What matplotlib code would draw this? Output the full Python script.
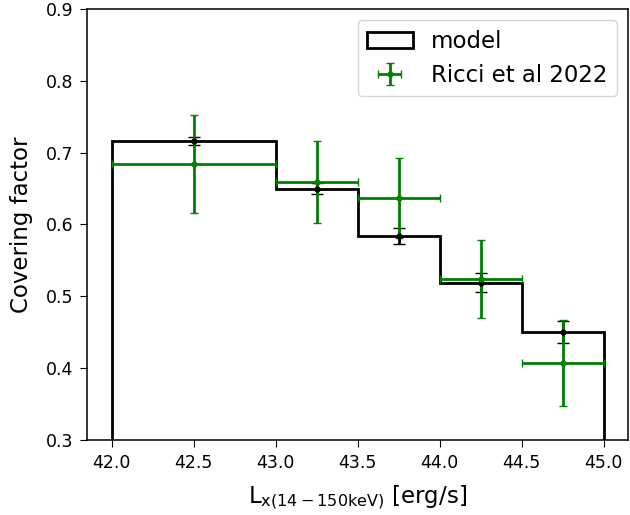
import numpy as np
import matplotlib
matplotlib.use("Agg")
import matplotlib.pyplot as plt

# model binned covering factor
bin_edges = [42.0, 43.0, 43.5, 44.0, 44.5, 45.0]
model_cf = [0.716, 0.650, 0.584, 0.519, 0.450]
model_x = [42.5, 43.25, 43.75, 44.25, 44.75]
model_err = [0.006, 0.008, 0.011, 0.013, 0.015]

# Ricci et al 2022
ricci_x = [42.5, 43.25, 43.75, 44.25, 44.75]
ricci_xerr = [0.5, 0.25, 0.25, 0.25, 0.25]
ricci_cf = [0.684, 0.659, 0.637, 0.524, 0.407]
ricci_err = [0.068, 0.057, 0.056, 0.054, 0.060]


def main():
    fig = plt.figure(figsize=(6.3, 5.15), dpi=100)
    ax = fig.add_axes([0.138, 0.1456, 0.859, 0.837])

    ax.hist(bin_edges[:-1], bins=bin_edges, weights=model_cf, histtype="step",
            color="black", linewidth=2, label="model")
    ax.errorbar(model_x, model_cf, yerr=model_err, fmt=".", color="black",
                capsize=4.5, linewidth=2, markersize=7)
    ax.errorbar(ricci_x, ricci_cf, xerr=ricci_xerr, yerr=ricci_err, fmt=".",
                color="green", capsize=3, linewidth=2, markersize=7,
                label="Ricci et al 2022")

    ax.set_ylim(0.3, 0.9)
    ax.set_xlabel(r"L$_{\rm x(14-150keV)}$ [erg/s]", fontsize=16.5, labelpad=8)
    ax.set_ylabel("Covering factor", fontsize=16.5, labelpad=9)
    ax.tick_params(labelsize=12.5, length=5, pad=5)
    for s in ax.spines.values():
        s.set_linewidth(1.1)
    ax.legend(fontsize=16.5, loc="upper right")

    fig.savefig("out.png", dpi=100)


if __name__ == '__main__':
    main()
